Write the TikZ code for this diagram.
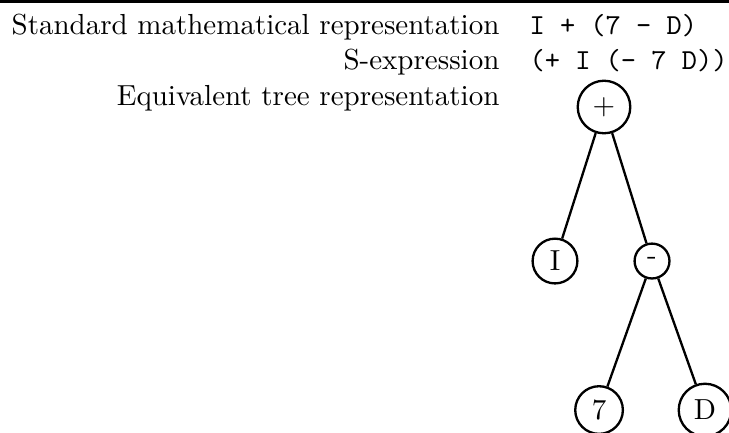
\documentclass[tikz,border=0pt]{standalone}
\usepackage{tikz}
\usetikzlibrary{positioning}
\tikzset{
  rowlabel/.style={anchor=base east, inner sep=0pt},
  exprtext/.style={anchor=base west, inner sep=0pt, font=\ttfamily},
  treenode/.style={circle, draw, line width=0.8pt, inner sep=2.8pt},
  treeedge/.style={line width=0.8pt},
}
\begin{document}
\begin{tikzpicture}
  \useasboundingbox (0,0) rectangle (8.836,-5.248);
  \draw[line width=1pt] (0,-0.018) -- (8.836,-0.018);
  % labels and expressions
  \node[rowlabel] (std) at (6.06,-0.424) {Standard mathematical representation};
  \node[rowlabel] (sexp) at (6.06,-0.848) {S-expression};
  \node[rowlabel] (tree) at (6.06,-1.273) {Equivalent tree representation};
  \node[exprtext] (stdval) at (6.412,-0.424) {I + (7 - D)};
  \node[exprtext] (sexpval) at (6.412,-0.848) {(+ I (- 7 D))};
  % tree
  \node[treenode] (plus) at (7.321,-1.297) {+};
  \node[treenode] (ileaf) at (6.727,-3.164) {I};
  \node[treenode] (minus) at (7.903,-3.164) {-};
  \node[treenode] (seven) at (7.261,-4.970) {7};
  \node[treenode] (dleaf) at (8.545,-4.970) {D};
  \foreach \a/\b in {plus/ileaf,plus/minus,minus/seven,minus/dleaf}
    \draw[treeedge] (\a) -- (\b);
\end{tikzpicture}
\end{document}
